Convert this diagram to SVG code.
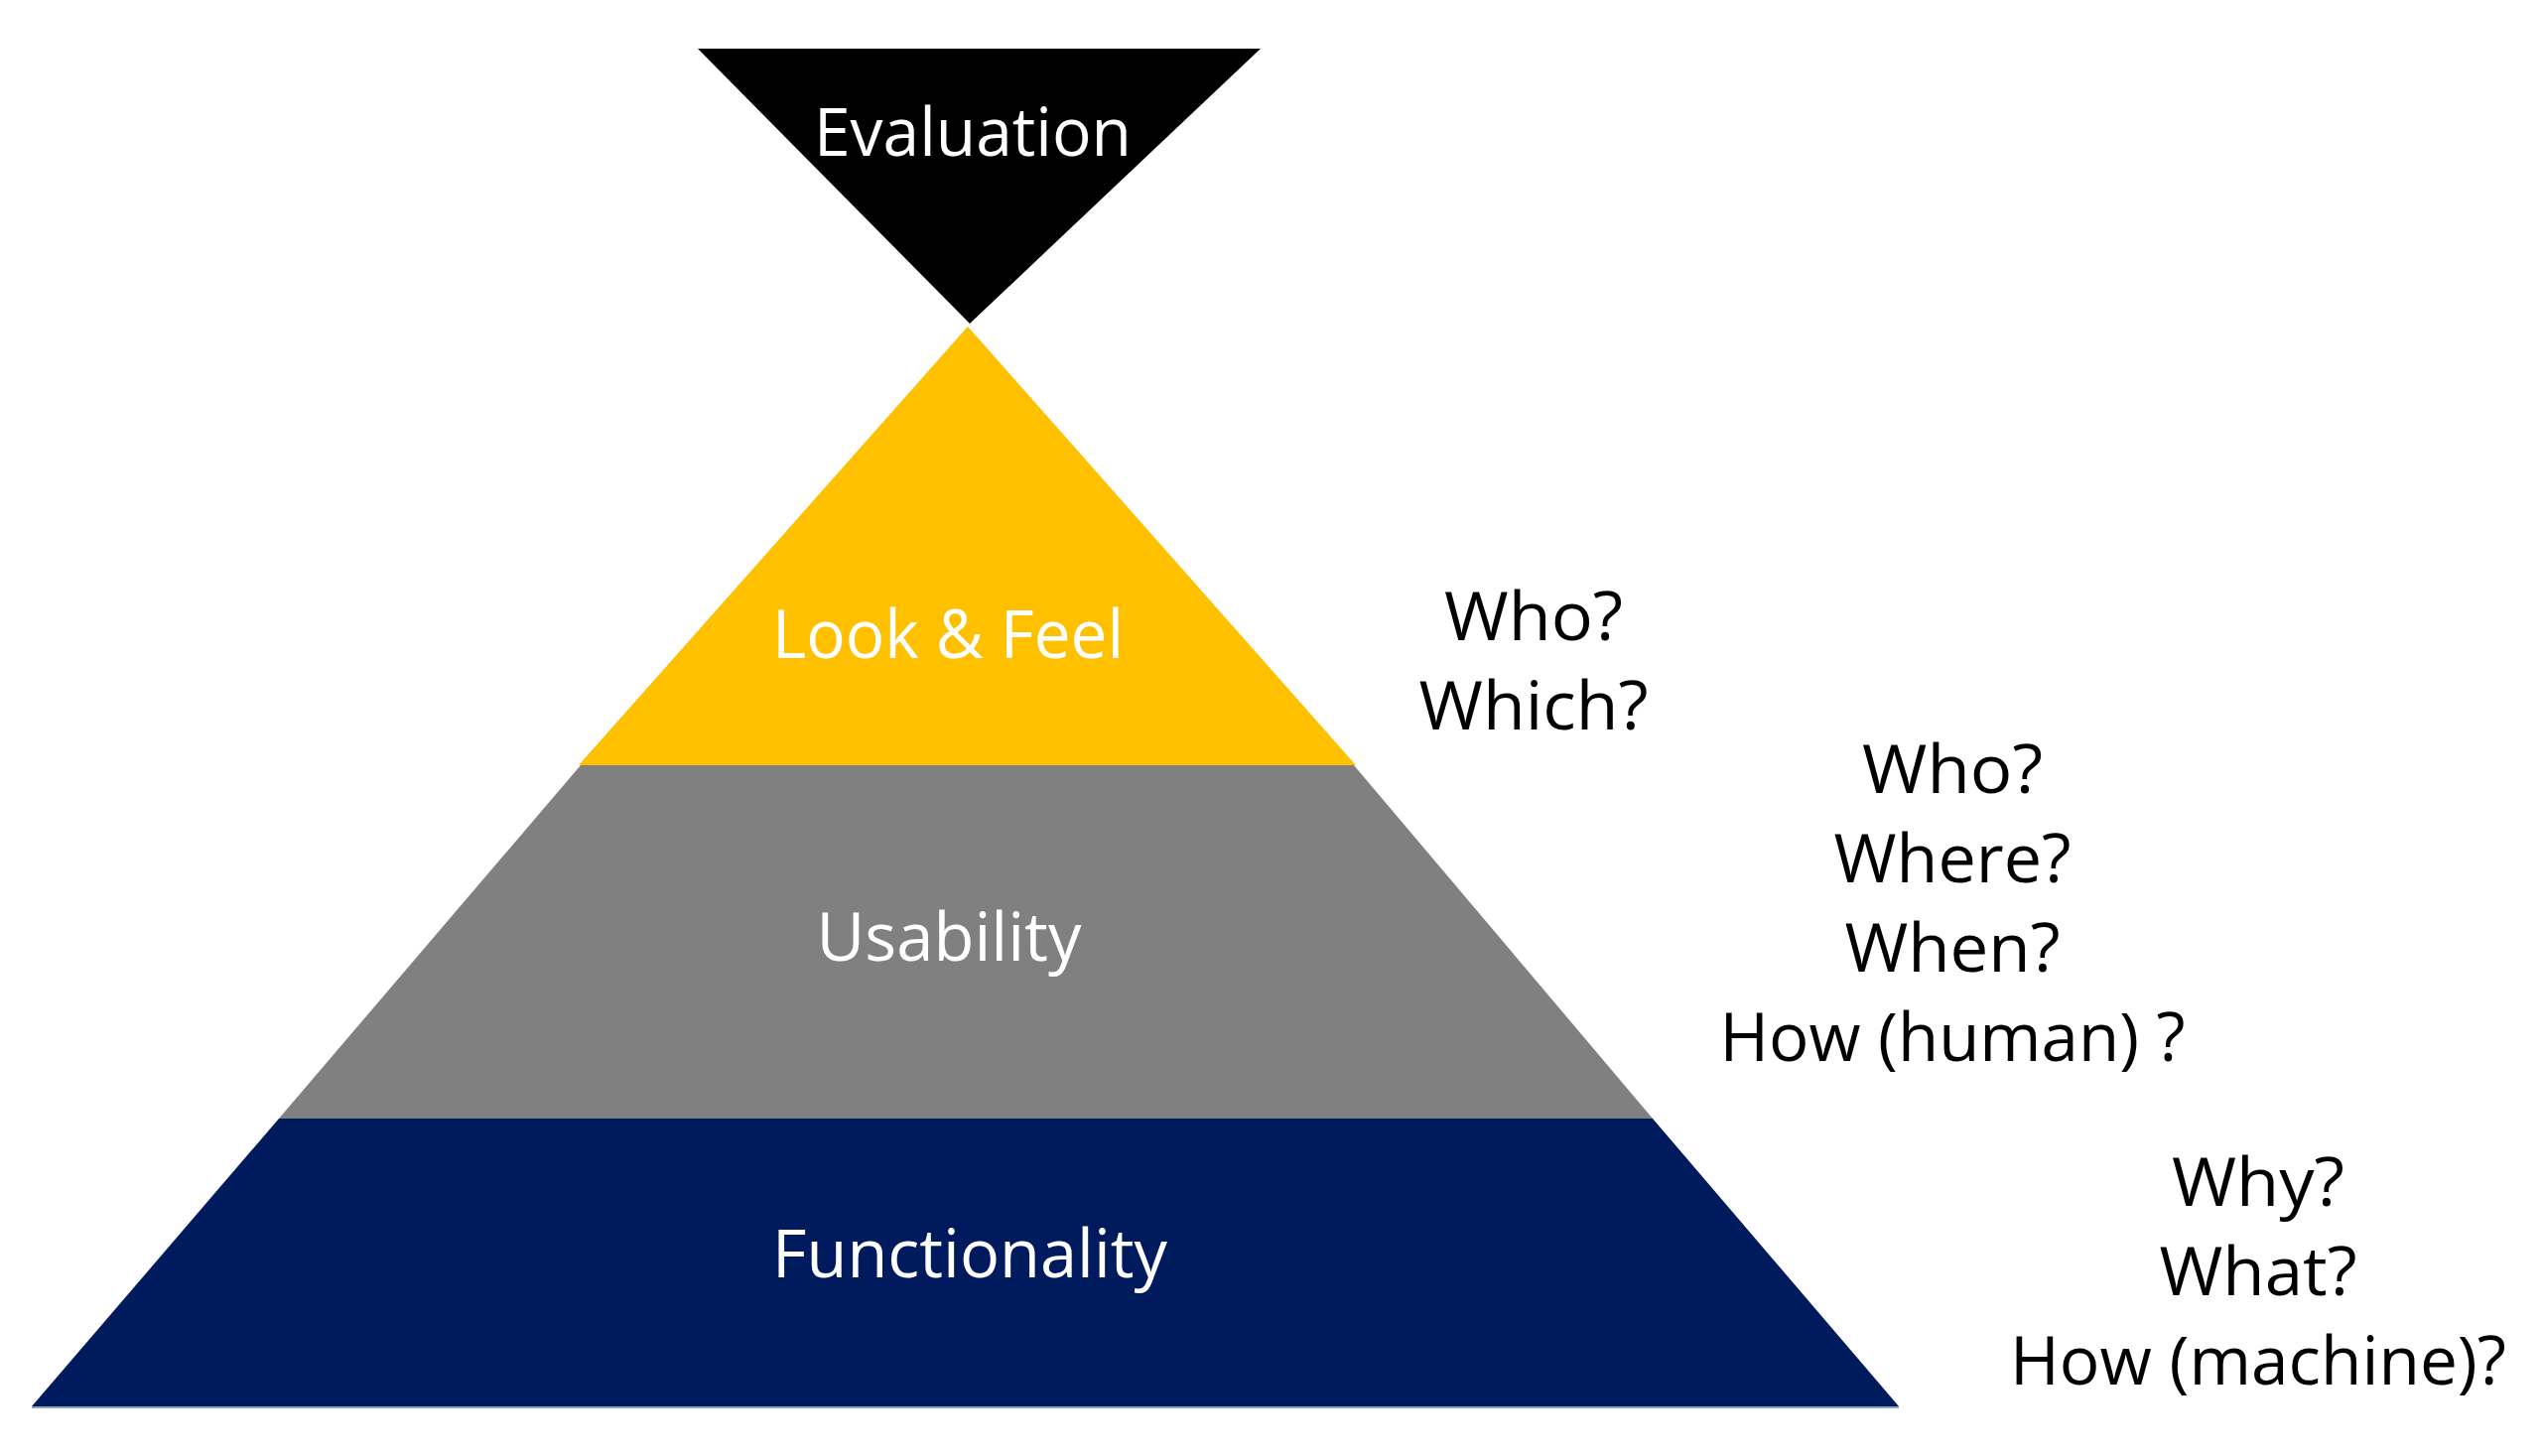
<svg xmlns="http://www.w3.org/2000/svg" width="2562" height="1467" viewBox="0 0 2562 1467">
<style>
.lbl{font-family:"Open Sans","Noto Sans","DejaVu Sans",sans-serif;font-size:68px;text-anchor:middle}
.w{fill:#ffffff}
.k{fill:#000000}
</style>
<rect width="2562" height="1467" fill="#ffffff"/>
<g id="connectors"/>
<g id="evaluation">
<polygon points="703,49 1270,49 977,326" fill="#000000"/>
<text class="lbl w" x="980" y="157" textLength="320" lengthAdjust="spacingAndGlyphs">Evaluation</text>
</g>
<g id="look-and-feel">
<polygon points="975,329 1366,771 583,771" fill="#FFC000"/>
<text class="lbl w" x="955" y="663" textLength="354" lengthAdjust="spacingAndGlyphs">Look &amp; Feel</text>
</g>
<g id="usability">
<polygon points="585,771 1364,771 1665,1127 281,1127" fill="#808080"/>
<text class="lbl w" x="956" y="968" textLength="267" lengthAdjust="spacingAndGlyphs">Usability</text>
</g>
<g id="functionality">
<polygon points="281,1127 1665,1127 1913,1417 32,1417" fill="#001A5E"/>
<line x1="32" y1="1418" x2="1913" y2="1418" stroke="#8FA2C6" stroke-width="2"/>
<text class="lbl w" x="977" y="1287" textLength="398" lengthAdjust="spacingAndGlyphs">Functionality</text>
</g>
<g id="questions-look">
<text class="lbl k" x="1545" y="645" textLength="180" lengthAdjust="spacingAndGlyphs">Who?</text>
<text class="lbl k" x="1545" y="735" textLength="231" lengthAdjust="spacingAndGlyphs">Which?</text>
</g>
<g id="questions-usability">
<text class="lbl k" x="1967" y="799" textLength="182" lengthAdjust="spacingAndGlyphs">Who?</text>
<text class="lbl k" x="1967" y="889" textLength="239" lengthAdjust="spacingAndGlyphs">Where?</text>
<text class="lbl k" x="1967" y="979" textLength="217" lengthAdjust="spacingAndGlyphs">When?</text>
<text class="lbl k" x="1967" y="1069" textLength="469" lengthAdjust="spacingAndGlyphs">How (human) ?</text>
</g>
<g id="questions-functionality">
<text class="lbl k" x="2275" y="1215" textLength="174" lengthAdjust="spacingAndGlyphs">Why?</text>
<text class="lbl k" x="2275" y="1305" textLength="199" lengthAdjust="spacingAndGlyphs">What?</text>
<text class="lbl k" x="2275" y="1395" textLength="500" lengthAdjust="spacingAndGlyphs">How (machine)?</text>
</g>
</svg>
